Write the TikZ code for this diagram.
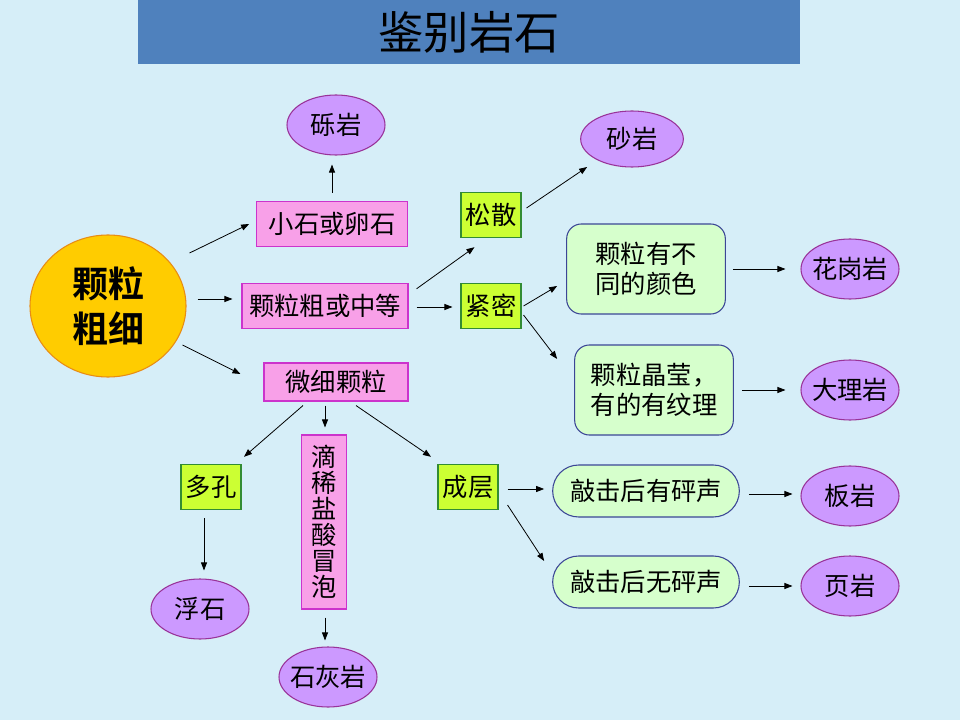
\documentclass[tikz,border=0pt]{standalone}
\usepackage{fontspec}
\setmainfont{Noto Sans CJK SC}[BoldFont={Noto Sans CJK SC Bold}]
\usetikzlibrary{arrows.meta,shapes.geometric}
\definecolor{bgc}{RGB}{214,238,248}
\definecolor{titlec}{RGB}{79,129,189}
\definecolor{circf}{RGB}{255,204,0}
\definecolor{circb}{RGB}{232,140,20}
\definecolor{rockf}{RGB}{204,153,255}
\definecolor{rockb}{RGB}{153,51,153}
\definecolor{pinkf}{RGB}{248,160,232}
\definecolor{pinkb}{RGB}{204,51,204}
\definecolor{ygf}{RGB}{204,255,51}
\definecolor{ygb}{RGB}{51,140,51}
\definecolor{lgf}{RGB}{214,255,204}
\definecolor{lgb}{RGB}{60,70,150}
\begin{document}
\begin{tikzpicture}[x=0.75pt,y=-0.75pt,
  txt/.style={font=\fontsize{19}{22.5}\selectfont, text=black},
  rock/.style={txt, ellipse, draw=rockb, fill=rockf, line width=0.8pt, minimum width=73.5pt, minimum height=45pt, inner xsep=-3pt, inner ysep=0pt},
  pinkbox/.style={txt, rectangle, draw=pinkb, fill=pinkf, line width=0.8pt, minimum height=34pt, inner sep=0pt},
  ygbox/.style={txt, rectangle, draw=ygb, fill=ygf, line width=0.8pt, minimum width=45pt, minimum height=34pt, inner sep=0pt},
  roundbox/.style={txt, rectangle, rounded corners=11pt, draw=lgb, fill=lgf, line width=0.8pt, minimum width=119pt, minimum height=67.5pt, inner sep=0pt, align=left},
  pill/.style={txt, rectangle, rounded corners=19.5pt, draw=lgb, fill=lgf, line width=0.8pt, minimum width=140pt, minimum height=39pt, inner sep=0pt},
  arr/.style={-{Triangle[length=6pt,width=4.5pt]}, line width=0.6pt, black}
]
\fill[bgc] (0,0) rectangle (960,720);
\useasboundingbox (0,0) rectangle (960,720);

\node[fill=titlec, minimum width=496.5pt, minimum height=48pt, inner sep=0pt,
      font=\fontsize{34}{38}\selectfont] (title) at (469,32) {鉴别岩石};

\node[ellipse, draw=circb, fill=circf, line width=0.8pt, minimum width=117pt, minimum height=106.5pt,
      inner sep=0pt, align=center, font=\fontsize{27}{34}\selectfont\bfseries] (circ) at (108,306) {颗粒\\粗细};

\node[rock] (lyan) at (336,125) {砾岩};
\node[pinkbox, minimum width=113pt] (xs) at (332,224) {小石或卵石};
\node[pinkbox, minimum width=124.5pt] (gz) at (325,306) {颗粒粗或中等};
\node[pinkbox, minimum width=108pt, minimum height=28.5pt] (wx) at (336,382) {微细颗粒};

\node[ygbox] (ss) at (491,215) {松散};
\node[ygbox] (jm) at (491,306) {紧密};
\node[rock, minimum width=77pt, minimum height=42pt] (sy) at (632,139) {砂岩};

\node[roundbox] (g1) at (646,269) {颗粒有不\\同的颜色};
\node[roundbox] (g2) at (654,390) {颗粒晶莹，\\有的有纹理};
\node[rock] (hg) at (850,269) {花岗岩};
\node[rock] (dl) at (850,390) {大理岩};

\node[ygbox] (dk) at (211,487) {多孔};
\node[pinkbox, minimum width=34pt, minimum height=130.5pt, align=center,
      font=\fontsize{19}{19.5}\selectfont] (dx) at (324,522) {滴\\稀\\盐\\酸\\冒\\泡};
\node[ygbox] (cc) at (468,487) {成层};
\node[rock] (fs) at (200,609) {浮石};
\node[rock] (shy) at (328,677) {石灰岩};

\node[pill] (q1) at (646,491) {敲击后有砰声};
\node[pill] (q2) at (646,582) {敲击后无砰声};
\node[rock] (by) at (850,496) {板岩};
\node[rock] (yy) at (850,586) {页岩};

% arrows
\draw[arr] ([shift={(3,-53)}]circ.east) -- ([shift={(-7,0)}]xs.west);
\draw[arr] ([shift={(11,-7)}]circ.east) -- ([shift={(-9,-7)}]gz.west);
\draw[arr] ([shift={(-4,39)}]circ.east) -- ([shift={(-23,-8)}]wx.west);
\draw[arr] ([shift={(0,-8)}]xs.north) -- ([shift={(-4,9)}]lyan.south);
\draw[arr] ([shift={(8,6)}]gz.north east) -- ([shift={(14,9)}]ss.south west);
\draw[arr] ([shift={(8,1)}]gz.east) -- ([shift={(-8,1)}]jm.west);
\draw[arr] ([shift={(5,-7)}]ss.east) -- ([shift={(7,28)}]sy.west);
\draw[arr] ([shift={(2,0)}]jm.east) -- ([shift={(-9,17)}]g1.west);
\draw[arr] ([shift={(2,9)}]jm.east) -- ([shift={(-17,-31)}]g2.west);
\draw[arr] ([shift={(7,0)}]g1.east) -- ([shift={(-15,0)}]hg.west);
\draw[arr] ([shift={(8,0)}]g2.east) -- ([shift={(-15,0)}]dl.west);
\draw[arr] ([shift={(-33,4)}]wx.south) -- ([shift={(33,-7)}]dk.north);
\draw[arr] ([shift={(-11,4)}]wx.south) -- ([shift={(1,-7)}]dx.north);
\draw[arr] ([shift={(20,4)}]wx.south) -- ([shift={(-37,-7)}]cc.north);
\draw[arr] ([shift={(-7,8)}]dk.south) -- ([shift={(4,-8)}]fs.north);
\draw[arr] ([shift={(1,8)}]dx.south) -- ([shift={(-3,-6)}]shy.north);
\draw[arr] ([shift={(9,2)}]cc.east) -- ([shift={(-8,-2)}]q1.west);
\draw[arr] ([shift={(9,18)}]cc.east) -- ([shift={(-8,-21)}]q2.west);
\draw[arr] ([shift={(9,3)}]q1.east) -- ([shift={(-8,-2)}]by.west);
\draw[arr] ([shift={(9,4)}]q2.east) -- ([shift={(-8,0)}]yy.west);
\end{tikzpicture}
\end{document}
